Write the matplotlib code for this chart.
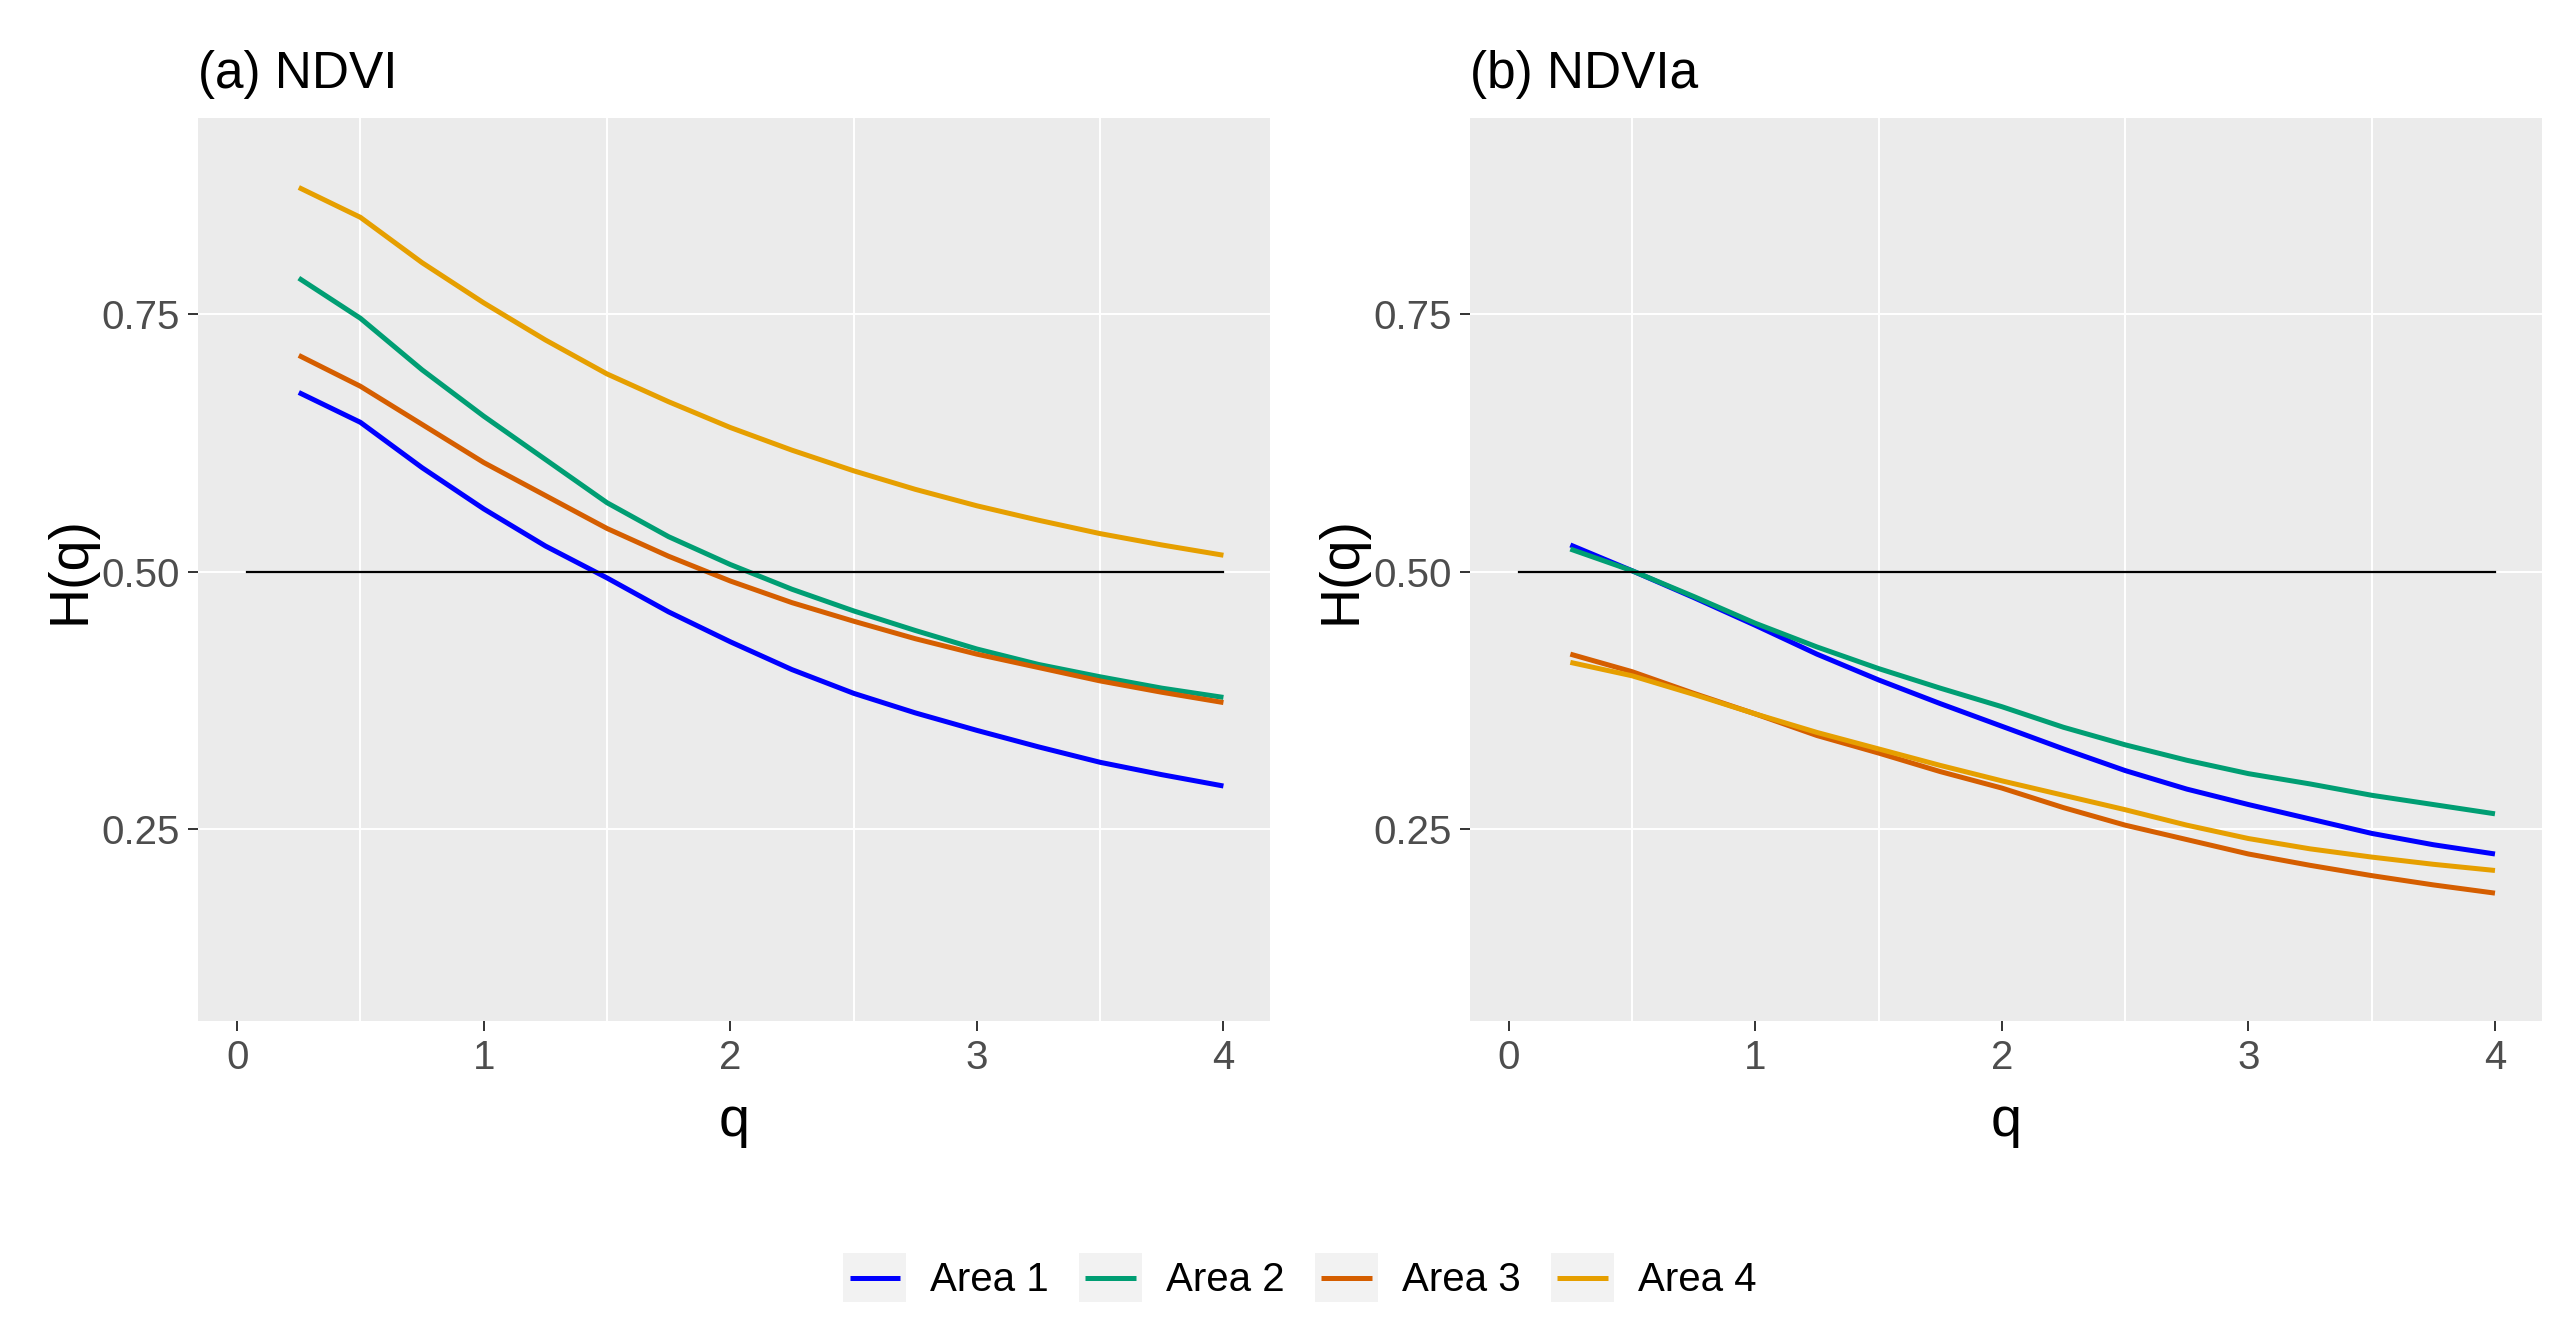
import matplotlib.pyplot as plt
from matplotlib.patches import Rectangle
from matplotlib.lines import Line2D
from matplotlib.legend_handler import HandlerBase
import numpy as np

plt.rcParams['font.family'] = ['Liberation Sans', 'DejaVu Sans']

# data
q = [0.25, 0.5, 0.75, 1.0, 1.25, 1.5, 1.75, 2.0,
     2.25, 2.5, 2.75, 3.0, 3.25, 3.5, 3.75, 4.0]

ndvi_area1 = [0.674, 0.645, 0.601, 0.561, 0.525, 0.494, 0.461, 0.432,
              0.405, 0.382, 0.363, 0.346, 0.330, 0.315, 0.303, 0.292]
ndvi_area2 = [0.785, 0.746, 0.696, 0.651, 0.609, 0.567, 0.534, 0.507,
              0.483, 0.462, 0.443, 0.425, 0.410, 0.398, 0.387, 0.378]
ndvi_area3 = [0.710, 0.680, 0.643, 0.606, 0.574, 0.542, 0.515, 0.491,
              0.470, 0.452, 0.435, 0.420, 0.407, 0.394, 0.383, 0.373]
ndvi_area4 = [0.873, 0.844, 0.800, 0.761, 0.725, 0.692, 0.665, 0.640,
              0.618, 0.598, 0.580, 0.564, 0.550, 0.537, 0.526, 0.516]

ndvia_area1 = [0.526, 0.501, 0.475, 0.448, 0.420, 0.395, 0.372, 0.350,
               0.328, 0.307, 0.289, 0.274, 0.260, 0.246, 0.235, 0.226]
ndvia_area2 = [0.522, 0.501, 0.476, 0.450, 0.427, 0.406, 0.387, 0.369,
               0.349, 0.332, 0.317, 0.304, 0.294, 0.283, 0.274, 0.265]
ndvia_area3 = [0.420, 0.403, 0.382, 0.362, 0.341, 0.324, 0.306, 0.290,
               0.271, 0.254, 0.240, 0.226, 0.215, 0.205, 0.196, 0.188]
ndvia_area4 = [0.412, 0.399, 0.381, 0.362, 0.344, 0.328, 0.312, 0.297,
               0.283, 0.269, 0.254, 0.241, 0.231, 0.223, 0.216, 0.210]

labels = ['Area 1', 'Area 2', 'Area 3', 'Area 4']
colors = ['#0000FF', '#009E73', '#D55E00', '#E69F00']
titles = ['(a) NDVI', '(b) NDVIa']
ref_level = 0.5
ref_range = [0.04, 4.0]

panels = [[ndvi_area1, ndvi_area2, ndvi_area3, ndvi_area4],
          [ndvia_area1, ndvia_area2, ndvia_area3, ndvia_area4]]

fig = plt.figure(figsize=(25.74, 13.31), dpi=100)
lefts = [0.077, 0.571]

for i in range(2):
    ax = fig.add_axes([lefts[i], 0.233, 0.4165, 0.678])
    ax.set_facecolor('#EBEBEB')
    for s in ax.spines.values():
        s.set_visible(False)
    ax.set_xlim(-0.158, 4.19)
    ax.set_ylim(0.064, 0.940)
    ax.set_xticks([0, 1, 2, 3, 4])
    ax.set_xticks([0.5, 1.5, 2.5, 3.5], minor=True)
    ax.set_yticks([0.25, 0.5, 0.75])
    ax.set_yticklabels(['0.25', '0.50', '0.75'])
    ax.grid(which='minor', axis='x', color='white', linewidth=1.4)
    ax.grid(which='major', axis='y', color='white', linewidth=1.4)
    ax.set_axisbelow(True)
    ax.tick_params(which='major', length=7, width=1.4, color='#333333',
                   labelsize=29, labelcolor='#4D4D4D', pad=6)
    ax.tick_params(which='minor', length=0)

    for ys, c, lab in zip(panels[i], colors, labels):
        ax.plot(q, ys, color=c, linewidth=3.6, label=lab, solid_capstyle='butt')
    ax.plot(ref_range, [ref_level, ref_level], color='black', linewidth=1.6)

    ax.set_title(titles[i], loc='left', fontsize=37, pad=22)
    ax.set_xlabel('q', fontsize=40, labelpad=14)
    ax.set_ylabel('H(q)', fontsize=40, labelpad=4)
    if i == 0:
        handles, _ = ax.get_legend_handles_labels()


class KeyHandler(HandlerBase):
    def create_artists(self, legend, orig_handle, xdescent, ydescent,
                       width, height, fontsize, trans):
        bg = Rectangle((-xdescent, -ydescent), width, height,
                       facecolor='#F2F2F2', edgecolor='none', transform=trans)
        y = -ydescent + height / 2
        ln = Line2D([-xdescent + 0.1 * width, -xdescent + 0.9 * width], [y, y],
                    color=orig_handle.get_color(), linewidth=3.6,
                    solid_capstyle='butt', transform=trans)
        return [bg, ln]


fig.legend(handles, labels, loc='center', bbox_to_anchor=(0.505, 0.040),
           ncol=4, frameon=False, fontsize=29, handlelength=1.56,
           handleheight=1.49, handletextpad=0.6, columnspacing=0.75,
           handler_map={Line2D: KeyHandler()})

fig.savefig('out.png', dpi=100)
